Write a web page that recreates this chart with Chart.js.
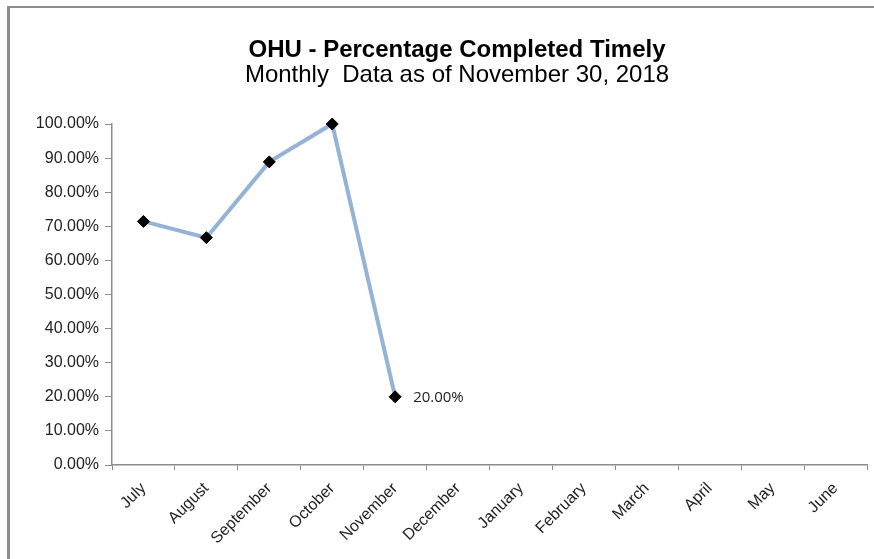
<!DOCTYPE html>
<html>
<head>
<meta charset="UTF-8" />
<title>OHU - Percentage Completed Timely</title>
<script src="https://cdn.jsdelivr.net/npm/chart.js"></script>
<style>
  body { margin: 0; background: #fff; }
  #frame { position: absolute; left: 7px; top: 6px; width: 900px; height: 600px;
           border-left: 3px solid #8c8c8c; border-top: 2px solid #8c8c8c; }
  #wrap { position: absolute; left: 0; top: 0; width: 874px; height: 559px; }
</style>
</head>
<body>
<div id="frame"></div>
<div id="wrap"><canvas id="myChart" width="874" height="559"></canvas></div>
<script>
// months of the fiscal year
const months = ['July', 'August', 'September', 'October', 'November', 'December',
                'January', 'February', 'March', 'April', 'May', 'June'];
// percent completed timely (null = no data yet)
const pctTimely = [71.43, 66.67, 88.89, 100, 20, null, null, null, null, null, null, null];
// y ticks
const yMin = 0, yMax = 100, yStep = 10;
const labelledMonth = 'November';
const titleText = 'OHU - Percentage Completed Timely';
const subtitleText = 'Monthly  Data as of November 30, 2018';

const fontFam = '"Liberation Sans", Arial, sans-serif';

// the two title lines (drawn here so they can sit a bit right of centre like the original)
const titles = {
  id: 'titles',
  afterDraw(chart) {
    const ctx = chart.ctx;
    ctx.save();
    ctx.fillStyle = '#000';
    ctx.textAlign = 'center';
    ctx.textBaseline = 'alphabetic';
    ctx.font = 'bold 24px ' + fontFam;
    ctx.fillText(titleText, 457, 57);
    ctx.font = '24px ' + fontFam;
    ctx.fillText(subtitleText, 457, 82);
    ctx.restore();
  }
};

// label next to the November point
const pointLabel = {
  id: 'pointLabel',
  afterDatasetsDraw(chart) {
    const meta = chart.getDatasetMeta(0);
    const i = months.indexOf(labelledMonth);
    const pt = meta.data[i];
    const ctx = chart.ctx;
    ctx.save();
    ctx.font = '15px "Open Sans", "DejaVu Sans", sans-serif';
    ctx.fillStyle = '#222';
    ctx.textBaseline = 'middle';
    ctx.fillText(pctTimely[i].toFixed(2) + '%', pt.x + 18, pt.y + 1);
    ctx.restore();
  }
};

new Chart(document.getElementById('myChart').getContext('2d'), {
  type: 'line',
  data: {
    labels: months,
    datasets: [{
      data: pctTimely,
      borderColor: '#95b3d7',
      borderWidth: 4,
      pointStyle: 'rectRot',
      pointRadius: 6,
      pointBackgroundColor: '#000',
      pointBorderColor: '#000',
      pointBorderWidth: 1,
      tension: 0,
      clip: false,
      spanGaps: false
    }]
  },
  options: {
    responsive: false,
    animation: false,
    layout: { padding: { left: 0, right: 2, top: 124, bottom: 0 } },
    plugins: {
      legend: { display: false },
      tooltip: { enabled: false },
      title: { display: false }
    },
    scales: {
      x: {
        offset: true,
        border: { color: '#8c8c8c', width: 1.5 },
        grid: { display: true, offset: true, drawOnChartArea: false, tickLength: 5, color: '#8c8c8c' },
        ticks: {
          color: '#222', maxRotation: 45, minRotation: 45, autoSkip: false,
          font: { family: fontFam, size: 16 }, padding: 9
        },
        afterFit(s) { s.height = 94; }
      },
      y: {
        min: yMin, max: yMax,
        border: { color: '#8c8c8c', width: 1.5 },
        grid: { display: true, drawOnChartArea: false, tickLength: 7, color: '#8c8c8c' },
        ticks: {
          stepSize: yStep, color: '#222', padding: 6,
          font: { family: fontFam, size: 16 },
          callback: v => v.toFixed(2) + '%'
        },
        afterFit(s) { s.width = 112; }
      }
    }
  },
  plugins: [titles, pointLabel]
});
</script>
</body>
</html>
